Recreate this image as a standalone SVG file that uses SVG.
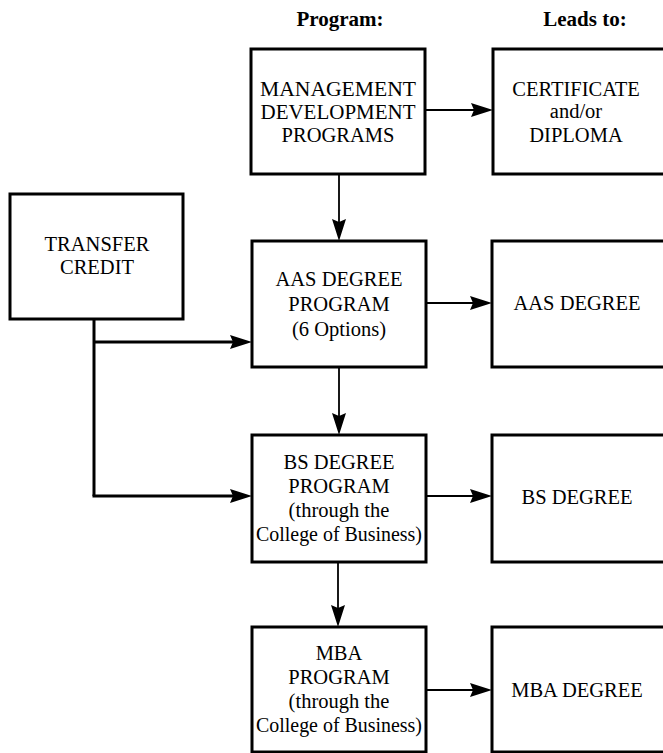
<svg xmlns="http://www.w3.org/2000/svg" width="663" height="753" viewBox="0 0 663 753">
<style>
.box{fill:#fff;stroke:#000;stroke-width:3}
text{font-family:'Liberation Serif','DejaVu Serif',serif;fill:#000;text-anchor:middle}
.t{font-size:20.5px}
.h{font-size:21px;font-weight:bold}
.c{fill:none;stroke:#000;stroke-width:1.8}
.ct{fill:none;stroke:#000;stroke-width:3}
</style>
<defs>
<marker id="ah" markerUnits="userSpaceOnUse" markerWidth="24" markerHeight="16" refX="12" refY="7" orient="auto">
<path d="M0,0 L22,7 L0,14 L3,7 z" fill="#000"/>
</marker>
</defs>
<rect width="663" height="753" fill="#fff"/>
<g id="headers" font-family="Liberation Serif, DejaVu Serif, serif">
<text class="h" x="340" y="26">Program:</text>
<text class="h" x="585" y="26">Leads to:</text>
</g>
<g id="mgmt" font-family="Liberation Serif, DejaVu Serif, serif">
<rect class="box" x="251" y="49" width="174" height="125"/>
<text class="t" x="338" y="96" textLength="156" lengthAdjust="spacingAndGlyphs">MANAGEMENT</text>
<text class="t" x="338" y="119" textLength="155" lengthAdjust="spacingAndGlyphs">DEVELOPMENT</text>
<text class="t" x="338" y="142">PROGRAMS</text>
</g>
<g id="cert">
<rect class="box" x="493" y="49" width="175" height="125"/>
<text class="t" x="576" y="96">CERTIFICATE</text>
<text class="t" x="576" y="118">and/or</text>
<text class="t" x="576" y="142">DIPLOMA</text>
</g>
<g id="transfer">
<rect class="box" x="10" y="194" width="173" height="125"/>
<text class="t" x="97" y="251">TRANSFER</text>
<text class="t" x="97" y="274">CREDIT</text>
</g>
<g id="aas">
<rect class="box" x="252" y="241" width="174" height="126"/>
<text class="t" x="339" y="286">AAS DEGREE</text>
<text class="t" x="339" y="311">PROGRAM</text>
<text class="t" x="339" y="336">(6 Options)</text>
</g>
<g id="aasdeg">
<rect class="box" x="492" y="241" width="176" height="126"/>
<text class="t" x="577" y="310">AAS DEGREE</text>
</g>
<g id="bs">
<rect class="box" x="252" y="435" width="174" height="127"/>
<text class="t" x="339" y="469">BS DEGREE</text>
<text class="t" x="339" y="493">PROGRAM</text>
<text class="t" x="339" y="517">(through the</text>
<text class="t" x="339" y="541" textLength="166" lengthAdjust="spacingAndGlyphs">College of Business)</text>
</g>
<g id="bsdeg">
<rect class="box" x="492" y="435" width="176" height="127"/>
<text class="t" x="577" y="504">BS DEGREE</text>
</g>
<g id="mba">
<rect class="box" x="252" y="627" width="174" height="125"/>
<text class="t" x="339" y="660">MBA</text>
<text class="t" x="339" y="684">PROGRAM</text>
<text class="t" x="339" y="708">(through the</text>
<text class="t" x="339" y="732" textLength="166" lengthAdjust="spacingAndGlyphs">College of Business)</text>
</g>
<g id="mbadeg">
<rect class="box" x="492" y="627" width="176" height="125"/>
<text class="t" x="577" y="697">MBA DEGREE</text>
</g>
<g id="connectors">
<line class="c" x1="425" y1="110" x2="483" y2="110" marker-end="url(#ah)"/>
<line class="c" x1="339" y1="174" x2="339" y2="231" marker-end="url(#ah)"/>
<line class="c" x1="426" y1="303" x2="482" y2="303" marker-end="url(#ah)"/>
<line class="c" x1="339" y1="367" x2="339" y2="425" marker-end="url(#ah)"/>
<line class="c" x1="426" y1="496" x2="482" y2="496" marker-end="url(#ah)"/>
<line class="c" x1="338" y1="562" x2="338" y2="617" marker-end="url(#ah)"/>
<line class="c" x1="426" y1="690" x2="482" y2="690" marker-end="url(#ah)"/>
<path class="ct" d="M94,319 V496"/>
<line class="ct" x1="94" y1="342" x2="242" y2="342" marker-end="url(#ah)"/>
<line class="ct" x1="92.5" y1="496" x2="242" y2="496" marker-end="url(#ah)"/>
</g>
</svg>
